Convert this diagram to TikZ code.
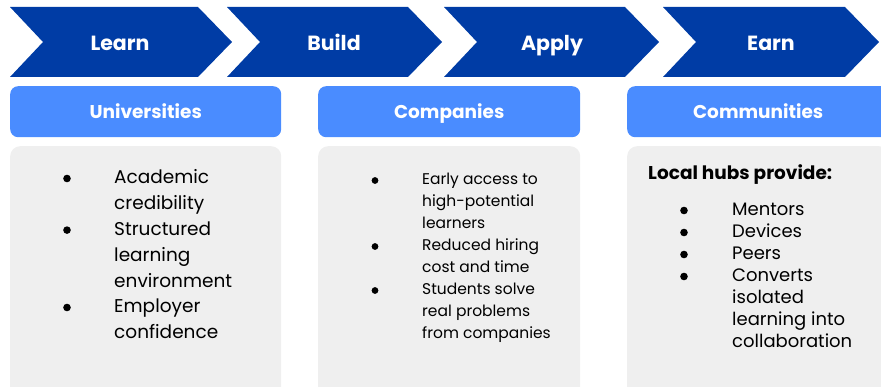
\documentclass[tikz,border=0pt]{standalone}
\usepackage{fontspec}
\setmainfont{Poppins}
\usepackage{xcolor}
\usepackage{tikz}
\usetikzlibrary{positioning,calc}

\definecolor{chevblue}{RGB}{0,60,165}
\definecolor{headblue}{RGB}{74,140,255}
\definecolor{cardgray}{RGB}{239,239,239}

\begin{document}
\begin{tikzpicture}[x=1pt,y=-1pt,
    chevlabel/.style={text=white, font=\bfseries\fontsize{20.5}{24}\selectfont, text height=18.4pt, text depth=4pt},
    header/.style={fill=headblue, rounded corners=8pt, anchor=north west, minimum width=#1, minimum height=51pt,
        text=white, font=\bfseries\fontsize{18.5}{22}\selectfont, text height=17pt, text depth=4pt},
    card/.style={fill=cardgray, rounded corners=10pt, anchor=north west, minimum width=#1, minimum height=270pt},
    itemlist/.style={anchor=base west, inner sep=0pt, align=left},
    dot/.style={fill=black}]
    \useasboundingbox (0,0) rectangle (881,387);
    \clip (0,0) rectangle (881,387);

    % Chevrons
    \foreach \x/\w/\tx/\word/\name in {10/222/120/Learn/learn, 227/215/334/Build/build,
                                       444/215/552/Apply/apply, 663/216/771/Earn/earn}{
        \fill[chevblue] (\x,7) -- (\x+\w-34,7) -- (\x+\w,42) -- (\x+\w-34,77) -- (\x,77) -- (\x+33,42) -- cycle;
        \node[chevlabel] (\name) at (\tx,43) {\word};
    }

    % Headers
    \node[header=271pt] (univ) at (10,86) {Universities};
    \node[header=262pt] (comp) at (318,86) {Companies};
    \node[header=262pt] (comm) at (627,86) {Communities};

    % Cards
    \node[card=271pt] (univcard) at (10,146) {};
    \node[card=262pt] (compcard) at (318,146) {};
    \node[card=262pt] (commcard) at (627,146) {};

    % Lists
    \node[itemlist] (univlist) at (114,184) {\fontsize{18.5}{25.8}\selectfont
        \begin{tabular}[t]{@{}l@{}}
        Academic\\ credibility\\ Structured\\ learning\\ environment\\ Employer\\ confidence
        \end{tabular}};
    \foreach \i in {0,2,5}
        \fill[dot] (67,184+\i*25.8-5.5) circle (3.8pt);

    \node[itemlist] (complist) at (422,185) {\fontsize{15.5}{22}\selectfont
        \begin{tabular}[t]{@{}l@{}}
        Early access to\\ high-potential\\ learners\\ Reduced hiring\\ cost and time\\
        Students solve\\ real problems\\ from companies
        \end{tabular}};
    \foreach \i in {0,3,5}
        \fill[dot] (375,185+\i*22-4.5) circle (3.4pt);

    \node[itemlist, font=\bfseries\fontsize{18.5}{22}\selectfont] (hubs) at (648,180) {Local hubs provide:};
    \node[itemlist] (commlist) at (732,216) {\fontsize{18}{22}\selectfont
        \begin{tabular}[t]{@{}l@{}}
        Mentors\\ Devices\\ Peers\\ Converts\\ isolated\\ learning into\\ collaboration
        \end{tabular}};
    \foreach \i in {0,1,2,3}
        \fill[dot] (684,216+\i*22-5.5) circle (3.8pt);
\end{tikzpicture}
\end{document}
